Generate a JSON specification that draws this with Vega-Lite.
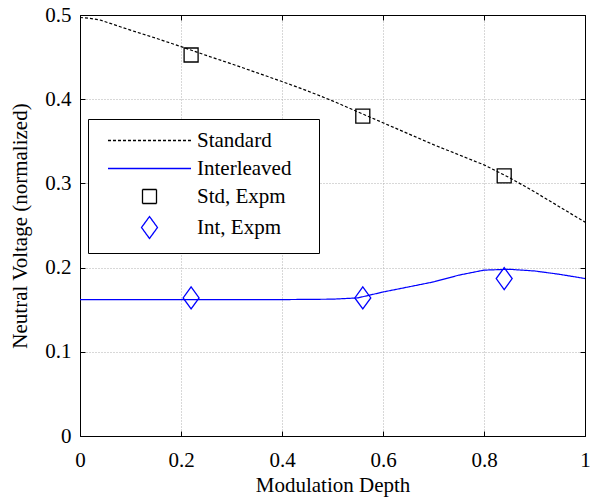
{
  "$schema": "https://vega.github.io/schema/vega-lite/v6.json",
  "width": 505,
  "height": 421,
  "autosize": "none",
  "padding": {"left": 80, "top": 15, "right": 9, "bottom": 63},
  "background": "white",
  "config": {
    "font": "Liberation Serif",
    "view": {"stroke": "black", "strokeWidth": 1},
    "axis": {
      "labelFont": "Liberation Serif", "labelFontSize": 21, "labelColor": "black", "labelFlush": false,
      "titleFont": "Liberation Serif", "titleFontSize": 21, "titleFontWeight": "normal", "titleColor": "black",
      "domainColor": "black", "tickColor": "black", "tickSize": -5,
      "gridColor": "#b0b0b0", "gridDash": [1, 2], "gridWidth": 1
    },
    "legend": {"labelFont": "Liberation Serif", "labelFontSize": 21, "labelColor": "black"}
  },
  "datasets": {
    "curves": [
      {"series": "Standard", "x": 0.0, "y": 0.497},
      {"series": "Standard", "x": 0.02, "y": 0.496},
      {"series": "Standard", "x": 0.04, "y": 0.494},
      {"series": "Standard", "x": 0.06, "y": 0.49},
      {"series": "Standard", "x": 0.1, "y": 0.482},
      {"series": "Standard", "x": 0.15, "y": 0.4725},
      {"series": "Standard", "x": 0.2, "y": 0.4625},
      {"series": "Standard", "x": 0.25, "y": 0.452},
      {"series": "Standard", "x": 0.3, "y": 0.442},
      {"series": "Standard", "x": 0.35, "y": 0.4315},
      {"series": "Standard", "x": 0.4, "y": 0.421},
      {"series": "Standard", "x": 0.45, "y": 0.41},
      {"series": "Standard", "x": 0.5, "y": 0.398},
      {"series": "Standard", "x": 0.55, "y": 0.385},
      {"series": "Standard", "x": 0.6, "y": 0.372},
      {"series": "Standard", "x": 0.65, "y": 0.359},
      {"series": "Standard", "x": 0.7, "y": 0.346},
      {"series": "Standard", "x": 0.75, "y": 0.334},
      {"series": "Standard", "x": 0.8, "y": 0.322},
      {"series": "Standard", "x": 0.85, "y": 0.307},
      {"series": "Standard", "x": 0.9, "y": 0.29},
      {"series": "Standard", "x": 0.95, "y": 0.272},
      {"series": "Standard", "x": 1.0, "y": 0.254},
      {"series": "Interleaved", "x": 0.0, "y": 0.162},
      {"series": "Interleaved", "x": 0.1, "y": 0.162},
      {"series": "Interleaved", "x": 0.2, "y": 0.162},
      {"series": "Interleaved", "x": 0.3, "y": 0.162},
      {"series": "Interleaved", "x": 0.4, "y": 0.162},
      {"series": "Interleaved", "x": 0.5, "y": 0.1625},
      {"series": "Interleaved", "x": 0.55, "y": 0.164},
      {"series": "Interleaved", "x": 0.6, "y": 0.171},
      {"series": "Interleaved", "x": 0.65, "y": 0.177},
      {"series": "Interleaved", "x": 0.7, "y": 0.183},
      {"series": "Interleaved", "x": 0.75, "y": 0.191},
      {"series": "Interleaved", "x": 0.8, "y": 0.197},
      {"series": "Interleaved", "x": 0.85, "y": 0.198},
      {"series": "Interleaved", "x": 0.9, "y": 0.196},
      {"series": "Interleaved", "x": 0.95, "y": 0.192},
      {"series": "Interleaved", "x": 1.0, "y": 0.187}
    ],
    "expm": [
      {"series": "Std, Expm", "x": 0.22, "y": 0.4525},
      {"series": "Std, Expm", "x": 0.56, "y": 0.38},
      {"series": "Std, Expm", "x": 0.84, "y": 0.309},
      {"series": "Int, Expm", "x": 0.22, "y": 0.164},
      {"series": "Int, Expm", "x": 0.56, "y": 0.164},
      {"series": "Int, Expm", "x": 0.84, "y": 0.187}
    ]
  },
  "layer": [
    {
      "data": {"name": "curves"},
      "mark": {"type": "line", "strokeWidth": 1.2},
      "encoding": {
        "x": {"field": "x", "type": "quantitative", "scale": {"domain": [0, 1], "nice": false},
              "axis": {"orient": "bottom", "title": "Modulation Depth", "values": [0, 0.2, 0.4, 0.6, 0.8, 1], "format": "~g", "labelPadding": 18, "titlePadding": 4, "grid": true}},
        "y": {"field": "y", "type": "quantitative", "scale": {"domain": [0, 0.5], "nice": false, "zero": true},
              "axis": {"orient": "left", "title": "Neutral Voltage (normalized)", "values": [0, 0.1, 0.2, 0.3, 0.4, 0.5], "format": "~g", "labelPadding": 14, "titlePadding": 14, "grid": true}},
        "color": {"field": "series", "type": "nominal",
                  "scale": {"domain": ["Standard", "Interleaved", "Std, Expm", "Int, Expm"], "range": ["black", "#0000ff", "black", "#0000ff"]},
                  "legend": {"title": "\u00a0\u00a0", "titleOrient": "right", "titlePadding": 17, "titleFontSize": 21,
                             "orient": "none", "legendX": 8, "legendY": 104,
                             "padding": 11, "strokeColor": "black", "fillColor": "white",
                             "symbolOffset": 40, "labelOffset": 37, "rowPadding": 6, "symbolSize": 196, "symbolStrokeWidth": 1.3,
                             "encode": {"symbols": {"update": {"fill": {"value": "transparent"}}}}}},
        "strokeDash": {"field": "series", "type": "nominal",
                       "scale": {"domain": ["Standard", "Interleaved", "Std, Expm", "Int, Expm"], "range": [[3, 2], [1, 0], [1, 0], [1, 0]]}}
      }
    },
    {
      "data": {"name": "expm"},
      "mark": {"type": "point", "filled": false, "strokeWidth": 1.3, "size": 196, "opacity": 1},
      "encoding": {
        "x": {"field": "x", "type": "quantitative", "axis": {"orient": "top", "labels": false, "title": null, "values": [0, 0.2, 0.4, 0.6, 0.8, 1], "grid": false}},
        "y": {"field": "y", "type": "quantitative", "axis": {"orient": "right", "labels": false, "title": null, "values": [0, 0.1, 0.2, 0.3, 0.4, 0.5], "grid": false}},
        "color": {"field": "series", "type": "nominal"},
        "shape": {"field": "series", "type": "nominal",
                  "scale": {"domain": ["Standard", "Interleaved", "Std, Expm", "Int, Expm"],
                            "range": ["M-5.93,0L5.93,0", "M-5.93,0L5.93,0", "square", "M0,-1.57L1.14,0L0,1.57L-1.14,0Z"]}}
      }
    }
  ]
}
